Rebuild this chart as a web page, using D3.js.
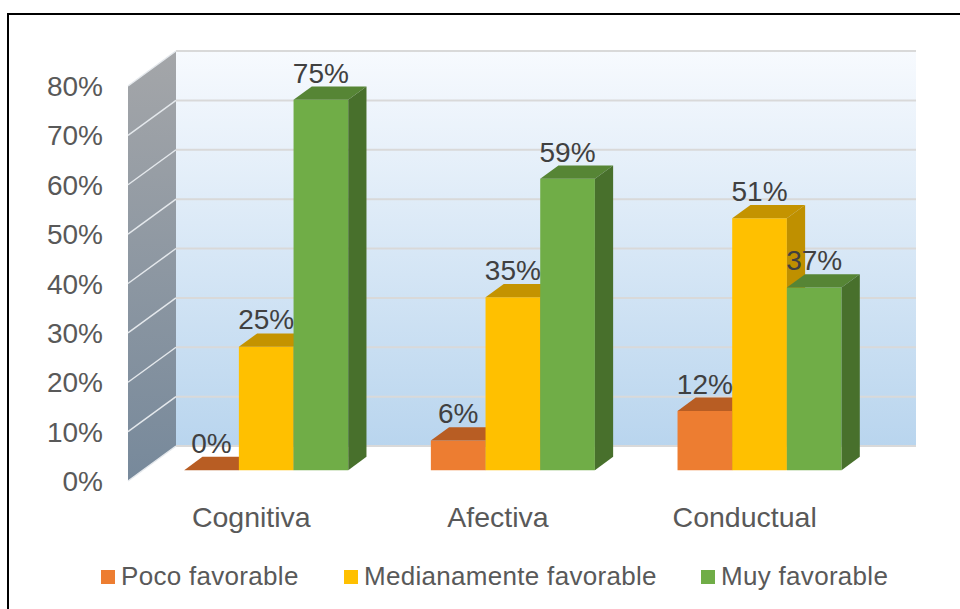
<!DOCTYPE html>
<html>
<head>
<meta charset="utf-8">
<script src="https://cdn.jsdelivr.net/npm/d3@7"></script>
<style>
  body { margin: 0; background: #fff; }
  text { font-family: "Liberation Sans", Arial, sans-serif; }
</style>
</head>
<body>
<div id="chart"></div>
<script>
// data
var categories = ["Cognitiva", "Afectiva", "Conductual"];
var seriesNames = ["Poco favorable", "Medianamente favorable", "Muy favorable"];
var pocoFavorable = [0, 6, 12];
var medianamenteFavorable = [25, 35, 51];
var muyFavorable = [75, 59, 37];
var yTicks = [0, 10, 20, 30, 40, 50, 60, 70, 80];

var seriesValues = [pocoFavorable, medianamenteFavorable, muyFavorable];
var colors = [
  {front: "#ED7D31", top: "#B85D23", side: "#A9541F"},
  {front: "#FFC000", top: "#C49300", side: "#BF9000"},
  {front: "#70AD47", top: "#568535", side: "#48702C"}
];

var width = 960, height = 609;
var left = 128, right = 868, floorY = 481, plotH = 395;
var DX = 48, DY = 35;     // depth of the whole box
var Z0 = 0.31, Z1 = 0.69; // bar depth inside box

var svg = d3.select("#chart").append("svg")
    .attr("width", width)
    .attr("height", height);

var defs = svg.append("defs");
var g1 = defs.append("linearGradient").attr("id", "backwall")
    .attr("x1", 0).attr("y1", 0).attr("x2", 0).attr("y2", 1);
g1.append("stop").attr("offset", "0%").attr("stop-color", "#F7FAFE");
g1.append("stop").attr("offset", "100%").attr("stop-color", "#B9D5EE");
var g2 = defs.append("linearGradient").attr("id", "sidewall")
    .attr("x1", 0).attr("y1", 0).attr("x2", 0).attr("y2", 1);
g2.append("stop").attr("offset", "0%").attr("stop-color", "#A4A6A9");
g2.append("stop").attr("offset", "100%").attr("stop-color", "#77899B");

// border
svg.append("rect")
    .attr("x", 8).attr("y", 14)
    .attr("width", 980).attr("height", 620)
    .attr("fill", "none").attr("stroke", "#000").attr("stroke-width", 2);

var x0 = d3.scaleBand().domain(categories).range([left, right])
    .paddingInner(0.335).paddingOuter(0.1675);
var x1 = d3.scaleBand().domain(d3.range(seriesNames.length)).range([0, x0.bandwidth()]);
var y = d3.scaleLinear().domain([0, 80]).range([0, plotH]);

function P(x, v, z) {
  return [x + z * DX, floorY - y(v) - z * DY];
}
function poly(pts) { return "M" + pts.map(function(p) { return p.join(","); }).join("L") + "Z"; }

// back wall
svg.append("path")
    .attr("d", poly([P(left, 0, 1), P(right, 0, 1), P(right, 80, 1), P(left, 80, 1)]))
    .attr("fill", "url(#backwall)");
// side wall
svg.append("path")
    .attr("d", poly([P(left, 0, 0), P(left, 0, 1), P(left, 80, 1), P(left, 80, 0)]))
    .attr("fill", "url(#sidewall)");

// gridlines
yTicks.forEach(function(t) {
  var a = P(left, t, 1), b = P(right, t, 1), c = P(left, t, 0);
  svg.append("line")
      .attr("x1", a[0]).attr("y1", a[1]).attr("x2", b[0]).attr("y2", b[1])
      .attr("stroke", "#D9D9D9").attr("stroke-width", 2);
  svg.append("line")
      .attr("x1", c[0]).attr("y1", c[1]).attr("x2", a[0]).attr("y2", a[1])
      .attr("stroke", "#E4E8EC").attr("stroke-width", 1.5);
});

// y axis labels
svg.selectAll(".ytick")
    .data(yTicks)
  .enter().append("text")
    .attr("class", "ytick")
    .attr("x", 103)
    .attr("y", function(d) { return P(left, d, 0)[1] + 10; })
    .attr("text-anchor", "end")
    .attr("font-size", 28)
    .attr("fill", "#595959")
    .text(function(d) { return d + "%"; });

// bars
categories.forEach(function(cat, ci) {
  seriesValues.forEach(function(vals, si) {
    var v = vals[ci];
    var xa = x0(cat) + x1(si), xb = xa + x1.bandwidth();
    var c = colors[si];
    var g = svg.append("g");
    g.append("path")
        .attr("d", poly([P(xa, 0, Z0), P(xb, 0, Z0), P(xb, v, Z0), P(xa, v, Z0)]))
        .attr("fill", c.front);
    g.append("path")
        .attr("d", poly([P(xa, v, Z0), P(xb, v, Z0), P(xb, v, Z1), P(xa, v, Z1)]))
        .attr("fill", c.top);
    g.append("path")
        .attr("d", poly([P(xb, 0, Z0), P(xb, 0, Z1), P(xb, v, Z1), P(xb, v, Z0)]))
        .attr("fill", c.side);
  });
});

// data labels
categories.forEach(function(cat, ci) {
  seriesValues.forEach(function(vals, si) {
    var v = vals[ci];
    var xa = x0(cat) + x1(si);
    svg.append("text")
        .attr("x", P(xa + x1.bandwidth() / 2, v, Z0)[0])
        .attr("y", P(xa, v, Z1)[1] - 4)
        .attr("text-anchor", "middle")
        .attr("font-size", 28)
        .attr("fill", "#404040")
        .text(v + "%");
  });
});

// category labels
svg.selectAll(".cat")
    .data(categories)
  .enter().append("text")
    .attr("class", "cat")
    .attr("x", function(d) { return x0(d) + x0.bandwidth() / 2; })
    .attr("y", 527)
    .attr("text-anchor", "middle")
    .attr("font-size", 28.5)
    .attr("fill", "#595959")
    .text(function(d) { return d; });

// legend
var legendX = [101, 344, 701];
var legend = svg.selectAll(".legend")
    .data(seriesNames)
  .enter().append("g")
    .attr("class", "legend")
    .attr("transform", function(d, i) { return "translate(" + legendX[i] + ",577)"; });
legend.append("rect")
    .attr("x", 0).attr("y", -7)
    .attr("width", 14).attr("height", 14)
    .attr("fill", function(d, i) { return colors[i].front; });
legend.append("text")
    .attr("x", 20).attr("y", 8)
    .attr("font-size", 26)
    .attr("letter-spacing", 0.3)
    .attr("fill", "#595959")
    .text(function(d) { return d; });
</script>
</body>
</html>
